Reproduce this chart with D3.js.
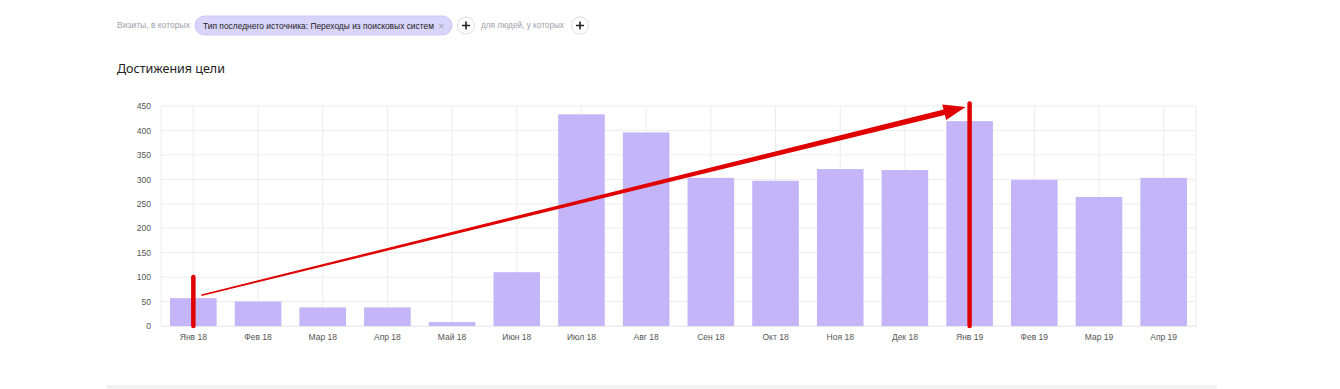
<!DOCTYPE html>
<html>
<head>
<meta charset="utf-8">
<script src="https://cdn.jsdelivr.net/npm/d3@7"></script>
<style>
  body { margin: 0; background: #fff; font-family: "Noto Sans", "DejaVu Sans", sans-serif; }
  #chart { position: relative; width: 1340px; height: 389px; overflow: hidden; }
</style>
</head>
<body>
<div id="chart"></div>
<script>
const months = ['Янв 18', 'Фев 18', 'Мар 18', 'Апр 18', 'Май 18', 'Июн 18', 'Июл 18', 'Авг 18',
  'Сен 18', 'Окт 18', 'Ноя 18', 'Дек 18', 'Янв 19', 'Фев 19', 'Мар 19', 'Апр 19'];
const goals = [57, 50, 38, 38, 8, 110, 433, 396, 303, 297, 321, 319, 419, 299, 264, 303];
const yTicks = [0, 50, 100, 150, 200, 250, 300, 350, 400, 450];

const W = 1340, H = 389;
const margin = { top: 106, right: 144, bottom: 63, left: 161 };
const width = W - margin.left - margin.right;
const height = H - margin.top - margin.bottom;

const svg = d3.select('#chart').append('svg')
  .attr('width', W)
  .attr('height', H);

// ---- filter row ----
const filt = svg.append('g').style('font-size', '8.5px').style('font-family', '"Liberation Sans", Arial, sans-serif');
filt.append('text').attr('x', 117).attr('y', 28).attr('fill', '#a0a0a8')
  .attr('textLength', 73).attr('lengthAdjust', 'spacingAndGlyphs').text('Визиты, в которых');
filt.append('rect').attr('x', 195).attr('y', 16).attr('width', 257).attr('height', 19)
  .attr('rx', 9.5).attr('fill', '#d9d4fa').attr('stroke', '#cdc6f5');
filt.append('text').attr('x', 203).attr('y', 28.5).attr('fill', '#222')
  .attr('textLength', 231).attr('lengthAdjust', 'spacingAndGlyphs')
  .text('Тип последнего источника: Переходы из поисковых систем');
filt.append('text').attr('x', 438).attr('y', 29.5).attr('fill', '#aaa').style('font-size', '11px').text('×');
const plus = (cx) => {
  filt.append('circle').attr('cx', cx).attr('cy', 25.5).attr('r', 8.5)
    .attr('fill', '#fff').attr('stroke', '#dcdce2');
  filt.append('path').attr('d', `M${cx - 4},25.5H${cx + 4}M${cx},21.5V29.5`)
    .attr('stroke', '#222').attr('stroke-width', 1.6);
};
plus(466);
filt.append('text').attr('x', 481).attr('y', 28).attr('fill', '#a0a0a8')
  .attr('textLength', 83).attr('lengthAdjust', 'spacingAndGlyphs').text('для людей, у которых');
plus(580);

svg.append('text')
  .attr('x', 117).attr('y', 73)
  .style('font-size', '12.5px')
  .attr('fill', '#222')
  .text('Достижения цели');

// ---- chart ----
const g = svg.append('g').attr('transform', `translate(${margin.left},${margin.top})`);

const x = d3.scaleBand().domain(months).range([0, width]).paddingInner(0.28).paddingOuter(0.14);
const y = d3.scaleLinear().domain([0, 450]).range([height, 0]);

// grid
g.append('g')
  .selectAll('line.h')
  .data(yTicks)
  .enter().append('line')
    .attr('x1', 0).attr('x2', width)
    .attr('y1', d => y(d)).attr('y2', d => y(d))
    .attr('stroke', '#ececef');
g.append('g')
  .selectAll('line.v')
  .data(months)
  .enter().append('line')
    .attr('x1', d => x(d) + x.bandwidth() / 2).attr('x2', d => x(d) + x.bandwidth() / 2)
    .attr('y1', 0).attr('y2', height)
    .attr('stroke', '#ececef');
g.append('line').attr('x1', 0).attr('x2', 0).attr('y1', 0).attr('y2', height).attr('stroke', '#ececef');
g.append('line').attr('x1', width).attr('x2', width).attr('y1', 0).attr('y2', height).attr('stroke', '#ececef');

// bars
g.selectAll('.bar')
  .data(goals)
  .enter()
  .append('rect')
    .attr('class', 'bar')
    .attr('x', (d, i) => x(months[i]))
    .attr('y', d => y(d))
    .attr('width', x.bandwidth())
    .attr('height', d => height - y(d))
    .attr('fill', '#c3b5f8');

// axes
const yAxis = g.append('g')
  .call(d3.axisLeft(y).tickValues(yTicks).tickSize(0).tickPadding(10));
yAxis.select('.domain').remove();
yAxis.selectAll('text').style('font-size', '8.5px').attr('fill', '#555').style('font-family', '"Liberation Sans", Arial, sans-serif');

const xAxis = g.append('g')
  .attr('transform', `translate(0,${height})`)
  .call(d3.axisBottom(x).tickSize(0).tickPadding(8));
xAxis.select('.domain').attr('stroke', '#ececef');
xAxis.selectAll('text').style('font-size', '8.5px').attr('fill', '#555').style('font-family', '"Liberation Sans", Arial, sans-serif');

// ---- red annotations ----
const cx = (m) => x(m) + x.bandwidth() / 2;
const red = '#e00000';
g.append('line')
  .attr('x1', cx('Янв 18')).attr('x2', cx('Янв 18'))
  .attr('y1', y(100)).attr('y2', y(0))
  .attr('stroke', red).attr('stroke-width', 4.5).attr('stroke-linecap', 'round');
g.append('line')
  .attr('x1', cx('Янв 19')).attr('x2', cx('Янв 19'))
  .attr('y1', y(455)).attr('y2', y(0))
  .attr('stroke', red).attr('stroke-width', 4.5).attr('stroke-linecap', 'round');

// tapered arrow
const x0 = cx('Янв 18') + 8, y0 = y(63);
const x1 = cx('Янв 19') - 4, y1 = y(448);
const ang = Math.atan2(y1 - y0, x1 - x0);
const nx = -Math.sin(ang), ny = Math.cos(ang);
const ux = Math.cos(ang), uy = Math.sin(ang);
const headL = 22, headW = 8;
const bx = x1 - ux * headL, by = y1 - uy * headL;
const w0 = 0.8, w1 = 2.8;
const arrow = [
  [x0 + nx * w0, y0 + ny * w0],
  [bx + nx * w1, by + ny * w1],
  [bx + nx * headW, by + ny * headW],
  [x1, y1],
  [bx - nx * headW, by - ny * headW],
  [bx - nx * w1, by - ny * w1],
  [x0 - nx * w0, y0 - ny * w0]
];
g.append('path')
  .attr('d', d3.line()(arrow) + 'Z')
  .attr('fill', red);

// bottom strip
svg.append('rect').attr('x', 107).attr('y', 385).attr('width', 1110).attr('height', 4).attr('fill', '#f2f2f5');
</script>
</body>
</html>
